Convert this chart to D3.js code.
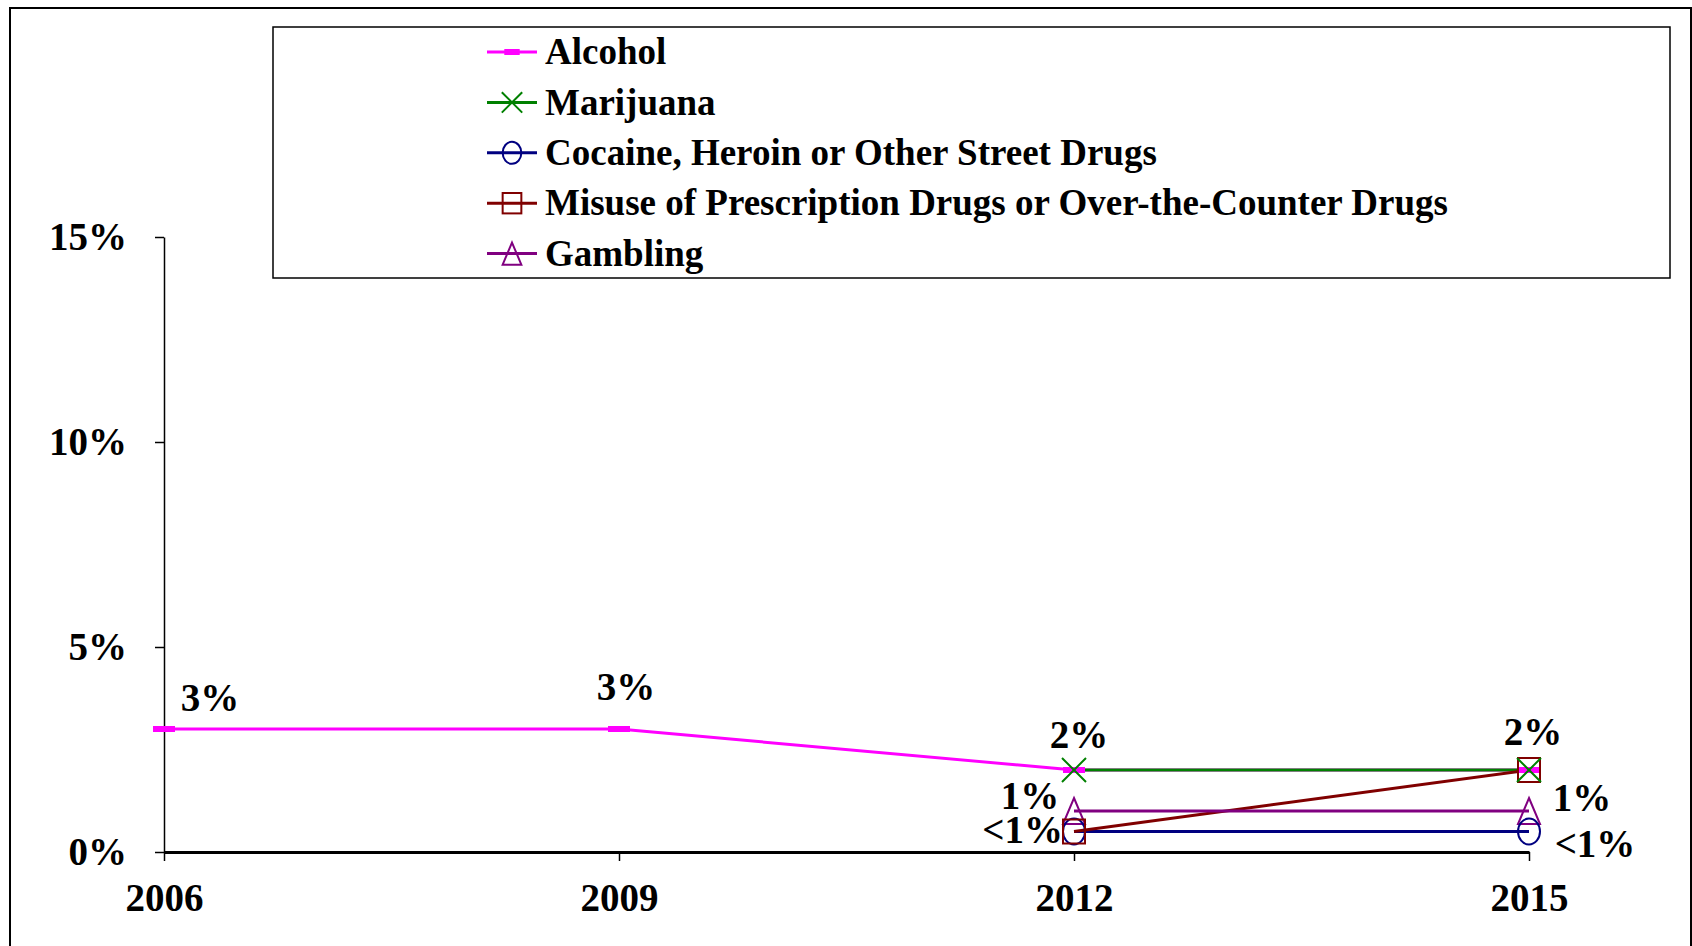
<!DOCTYPE html>
<html>
<head>
<meta charset="utf-8">
<script src="https://cdn.jsdelivr.net/npm/d3@7"></script>
<style>
  html, body { margin: 0; padding: 0; background: #fff; }
  svg { display: block; }
  text { font-family: "Liberation Serif", "Times New Roman", serif; font-weight: bold; fill: #000; }
</style>
</head>
<body>
<svg id="chart" width="1692" height="946"></svg>
<script>
// ---- Data ----
const years = ["2006", "2009", "2012", "2015"];
const alcohol   = [3, 3, 2, 2];
const marijuana = [null, null, 2, 2];
const cocaine   = [null, null, 0.5, 0.5];
const misuse    = [null, null, 0.5, 2];
const gambling  = [null, null, 1, 1];
const seriesNames = [
  "Alcohol",
  "Marijuana",
  "Cocaine, Heroin or Other Street Drugs",
  "Misuse of Prescription Drugs or Over-the-Counter Drugs",
  "Gambling"
];
const yTicks = [0, 5, 10, 15];

// ---- Styling ----
const colors  = ["#FF00FF", "#008000", "#000080", "#800000", "#800080"];
const symbols = ["bar", "x", "circle", "square", "triangle"];
const seriesValues = [alcohol, marijuana, cocaine, misuse, gambling];

const svg = d3.select("#chart");

// outer frame
svg.append("rect").attr("x", 10).attr("y", 8).attr("width", 1681).attr("height", 960)
  .attr("fill", "none").attr("stroke", "#000").attr("stroke-width", 2);

const x = d3.scalePoint().domain(years).range([164, 1529]);
const y = d3.scaleLinear().domain([0, 15]).range([852, 237]);

// Y axis
const yAxis = svg.append("g").attr("transform", "translate(164,0)")
  .call(d3.axisLeft(y).tickValues(yTicks).tickFormat(d => d + "%").tickSize(9).tickSizeOuter(0).tickPadding(28));
yAxis.select(".domain").attr("stroke", "#000").attr("stroke-width", 1.5);
yAxis.selectAll(".tick line").attr("stroke", "#000").attr("stroke-width", 1.5);
yAxis.selectAll(".tick text").attr("font-size", 39).attr("font-family", "Liberation Serif").attr("font-weight", "bold")
  .attr("fill", "#000").attr("dy", "0.33em");

// X axis
const xAxis = svg.append("g").attr("transform", "translate(0,852)")
  .call(d3.axisBottom(x).tickSize(9).tickSizeOuter(0).tickPadding(22));
xAxis.select(".domain").attr("stroke", "#000").attr("stroke-width", 3);
xAxis.selectAll(".tick line").attr("stroke", "#000").attr("stroke-width", 1.5);
xAxis.selectAll(".tick text").attr("font-size", 39).attr("font-family", "Liberation Serif").attr("font-weight", "bold")
  .attr("fill", "#000").attr("dy", "0.71em");

// symbol drawer
function drawSymbol(g, type, cx, cy, color, s) {
  s = s || 1;
  if (type === "bar") {
    g.append("rect").attr("x", cx - 11 * s).attr("y", cy - 3).attr("width", 22 * s).attr("height", 6).attr("fill", color);
  } else if (type === "x") {
    const r = 12 * s;
    g.append("path").attr("d", `M${cx - r},${cy - r}L${cx + r},${cy + r}M${cx - r},${cy + r}L${cx + r},${cy - r}`)
      .attr("stroke", color).attr("stroke-width", 2).attr("fill", "none");
  } else if (type === "circle") {
    g.append("ellipse").attr("cx", cx).attr("cy", cy).attr("rx", 11 * s).attr("ry", 13 * s)
      .attr("stroke", color).attr("stroke-width", 2).attr("fill", "none");
  } else if (type === "square") {
    g.append("rect").attr("x", cx - 11 * s).attr("y", cy - 12 * s).attr("width", 22 * s).attr("height", 24 * s)
      .attr("stroke", color).attr("stroke-width", 2).attr("fill", "none");
  } else if (type === "triangle") {
    const hw = 11 * s, hh = 13 * s;
    g.append("path").attr("d", `M${cx},${cy - hh}L${cx + hw},${cy + hh}L${cx - hw},${cy + hh}Z`)
      .attr("stroke", color).attr("stroke-width", 2).attr("fill", "none");
  }
}

// lines
const line = d3.line().defined(d => d.v !== null).x(d => x(d.year)).y(d => y(d.v));
const plot = svg.append("g");
seriesValues.forEach((vals, i) => {
  const pts = years.map((yr, j) => ({ year: yr, v: vals[j] }));
  plot.append("path").datum(pts).attr("d", line).attr("fill", "none")
    .attr("stroke", colors[i]).attr("stroke-width", 3);
});
// markers
const drawOrder = [0, 4, 2, 3, 1];
drawOrder.forEach(i => {
  const g = plot.append("g");
  seriesValues[i].forEach((v, j) => {
    if (v === null) return;
    drawSymbol(g, symbols[i], x(years[j]), y(v), colors[i]);
  });
});

// data labels
const fmt = v => (v < 1 ? "<1%" : v + "%");
const labels = [
  { s: 0, yr: "2006", dx: 46, dy: -31, anchor: "middle" },
  { s: 0, yr: "2009", dx: 7, dy: -42, anchor: "middle" },
  { s: 1, yr: "2012", dx: 5, dy: -35, anchor: "middle" },
  { s: 1, yr: "2015", dx: 4, dy: -38, anchor: "middle" },
  { s: 4, yr: "2012", dx: -44, dy: -15, anchor: "middle" },
  { s: 2, yr: "2012", dx: -11, dy: -1, anchor: "end" },
  { s: 4, yr: "2015", dx: 53, dy: -13, anchor: "middle" },
  { s: 2, yr: "2015", dx: 66, dy: 13, anchor: "middle" }
];
labels.forEach(l => {
  const j = years.indexOf(l.yr);
  const v = seriesValues[l.s][j];
  svg.append("text").attr("x", x(l.yr) + l.dx).attr("y", y(v) + l.dy)
    .attr("dy", "0.33em").attr("text-anchor", l.anchor).attr("font-size", 39).text(fmt(v));
});

// legend
const leg = svg.append("g");
leg.append("rect").attr("x", 273).attr("y", 27).attr("width", 1397).attr("height", 251)
  .attr("fill", "#fff").attr("stroke", "#000").attr("stroke-width", 1.5);
seriesNames.forEach((name, i) => {
  const cy = 52 + i * 50.4;
  leg.append("line").attr("x1", 487).attr("x2", 537).attr("y1", cy).attr("y2", cy)
    .attr("stroke", colors[i]).attr("stroke-width", 3);
  drawSymbol(leg, symbols[i], 512, cy, colors[i], i === 0 ? 0.7 : 0.85);
  leg.append("text").attr("x", 545).attr("y", cy).attr("dy", "0.33em").attr("font-size", 37).text(name);
});
</script>
</body>
</html>
